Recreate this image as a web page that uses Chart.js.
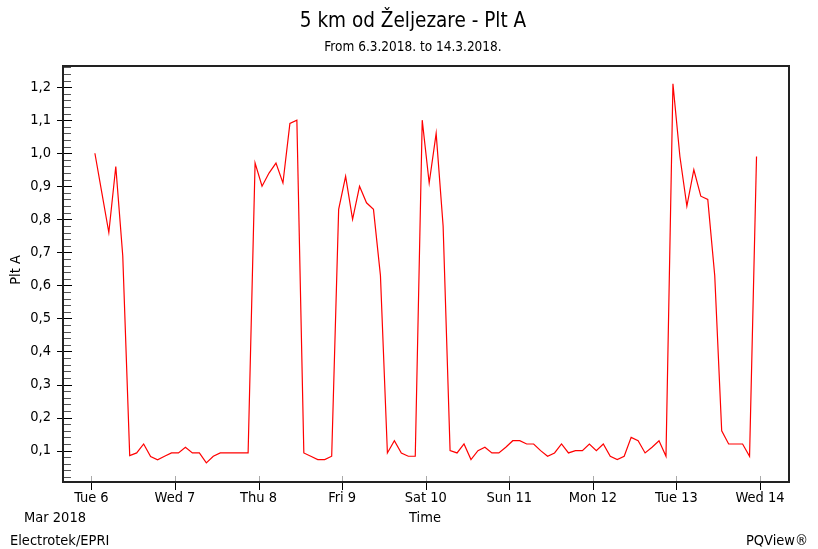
<!DOCTYPE html>
<html><head><meta charset="utf-8">
<script src="https://cdn.jsdelivr.net/npm/chart.js@4.4.1/dist/chart.umd.min.js"></script>
<style>html,body{margin:0;padding:0;background:#fff}#wrap{width:818px;height:549px}</style>
</head><body><div id="wrap"><canvas id="c" width="818" height="549"></canvas></div>
<script>
const titleText = '5 km od Željezare - Plt A';
const subtitleText = 'From 6.3.2018. to 14.3.2018.';
const yAxisTitle = 'Plt A';
const xAxisTitle = 'Time';
const monthLabel = 'Mar 2018';
const leftFooter = 'Electrotek/EPRI';
const rightFooter = 'PQView®';
const tickDays = [6, 7, 8, 9, 10, 11, 12, 13, 14];
const tickLabels = ['Tue 6', 'Wed 7', 'Thu 8', 'Fri 9', 'Sat 10', 'Sun 11', 'Mon 12', 'Tue 13', 'Wed 14'];
const yTicks = [0.1, 0.2, 0.3, 0.4, 0.5, 0.6, 0.7, 0.8, 0.9, 1.0, 1.1, 1.2];
const startDay = 6, startHour = 1, stepHours = 2;
const pltA = [
  1.00, 0.88, 0.76, 0.96, 0.69, 0.085, 0.093, 0.12, 0.082, 0.072, 0.083, 0.093,
  0.093, 0.11, 0.093, 0.093, 0.063, 0.083, 0.093, 0.093, 0.093, 0.093, 0.093, 0.97,
  0.90, 0.94, 0.97, 0.91, 1.09, 1.10, 0.093, 0.083, 0.073, 0.073, 0.083, 0.83,
  0.93, 0.80, 0.90, 0.85, 0.83, 0.63, 0.093, 0.13, 0.093, 0.083, 0.083, 1.10,
  0.91, 1.06, 0.78, 0.10, 0.093, 0.12, 0.073, 0.10, 0.11, 0.093, 0.093, 0.11,
  0.13, 0.13, 0.12, 0.12, 0.10, 0.083, 0.093, 0.12, 0.093, 0.10, 0.10, 0.12,
  0.10, 0.12, 0.083, 0.073, 0.083, 0.14, 0.13, 0.093, 0.11, 0.13, 0.083, 1.21,
  0.99, 0.84, 0.95, 0.87, 0.86, 0.63, 0.16, 0.12, 0.12, 0.12, 0.083, 0.99
];

const points = pltA.map((v, i) => ({ x: startDay + (startHour + i * stepHours) / 24, y: v }));
const FONT = "'DejaVu Sans Condensed', 'DejaVu Sans', sans-serif";

const decor = {
  id: 'decor',
  afterDraw(chart) {
    const ctx = chart.ctx, a = chart.chartArea, xs = chart.scales.x, ys = chart.scales.y;
    ctx.save();
    ctx.fillStyle = '#000';
    ctx.textAlign = 'center';
    ctx.textBaseline = 'middle';
    ctx.font = '20.5px ' + FONT;
    ctx.fillText(titleText, 413, 22);
    ctx.font = '13.5px ' + FONT;
    ctx.fillText(subtitleText, 413, 47);
    for (let k = 1; k * 0.02 < ys.max; k++) {
      const v = k * 0.02;
      const y = Math.round(ys.getPixelForValue(v)) + 0.5;
      ctx.beginPath();
      if (k % 5 === 0) {
        ctx.strokeStyle = '#000'; ctx.lineWidth = 1;
        ctx.moveTo(a.left - 6, y); ctx.lineTo(a.left + 9, y);
      } else {
        ctx.strokeStyle = '#555'; ctx.lineWidth = 1;
        ctx.moveTo(a.left, y); ctx.lineTo(a.left + 8, y);
      }
      ctx.stroke();
    }
    tickDays.forEach(d => {
      const x = Math.round(xs.getPixelForValue(d)) + 0.5;
      ctx.beginPath(); ctx.strokeStyle = '#aaa'; ctx.lineWidth = 1;
      ctx.moveTo(x, a.bottom - 6); ctx.lineTo(x, a.bottom); ctx.stroke();
      ctx.beginPath(); ctx.strokeStyle = '#000';
      ctx.moveTo(x, a.bottom); ctx.lineTo(x, a.bottom + 8); ctx.stroke();
    });
    ctx.strokeStyle = '#222'; ctx.lineWidth = 2;
    ctx.strokeRect(a.left, a.top, a.right - a.left, a.bottom - a.top);
    ctx.font = '14.5px ' + FONT;
    ctx.fillText(xAxisTitle, 425, 518);
    ctx.fillText(monthLabel, 55, 518);
    ctx.textAlign = 'left';
    ctx.fillText(leftFooter, 10, 541);
    ctx.textAlign = 'right';
    ctx.fillText(rightFooter, 808, 541);
    ctx.save();
    ctx.translate(16, 270);
    ctx.rotate(-Math.PI / 2);
    ctx.textAlign = 'center';
    ctx.fillText(yAxisTitle, 0, 0);
    ctx.restore();
    ctx.restore();
  }
};

new Chart(document.getElementById('c'), {
  type: 'line',
  data: { datasets: [{ data: points, borderColor: '#ff0000', borderWidth: 1.2, pointRadius: 0, tension: 0, fill: false }] },
  options: {
    responsive: false, animation: false, devicePixelRatio: 1,
    layout: { padding: { top: 66, right: 29, left: 0, bottom: 0 } },
    plugins: { legend: { display: false }, title: { display: false }, tooltip: { enabled: false } },
    scales: {
      x: {
        type: 'linear', min: 5.66, max: 14.347,
        grid: { display: false, drawTicks: false }, border: { display: false },
        ticks: {
          padding: 8, color: '#000', font: { family: FONT, size: 14.5 }, autoSkip: false, maxRotation: 0,
          callback: (v) => { const i = tickDays.indexOf(v); return i >= 0 ? tickLabels[i] : ''; }
        },
        afterBuildTicks: (s) => { s.ticks = tickDays.map(v => ({ value: v })); },
        afterFit: (s) => { s.height = 67; }
      },
      y: {
        min: 0.005, max: 1.264,
        grid: { display: false, drawTicks: false }, border: { display: false },
        ticks: {
          padding: 12, color: '#000', font: { family: FONT, size: 14.5 },
          callback: (v) => v.toFixed(1).replace('.', ',')
        },
        afterBuildTicks: (s) => { s.ticks = yTicks.map(v => ({ value: v })); },
        afterFit: (s) => { s.width = 63; }
      }
    }
  },
  plugins: [decor]
});
</script></body></html>
